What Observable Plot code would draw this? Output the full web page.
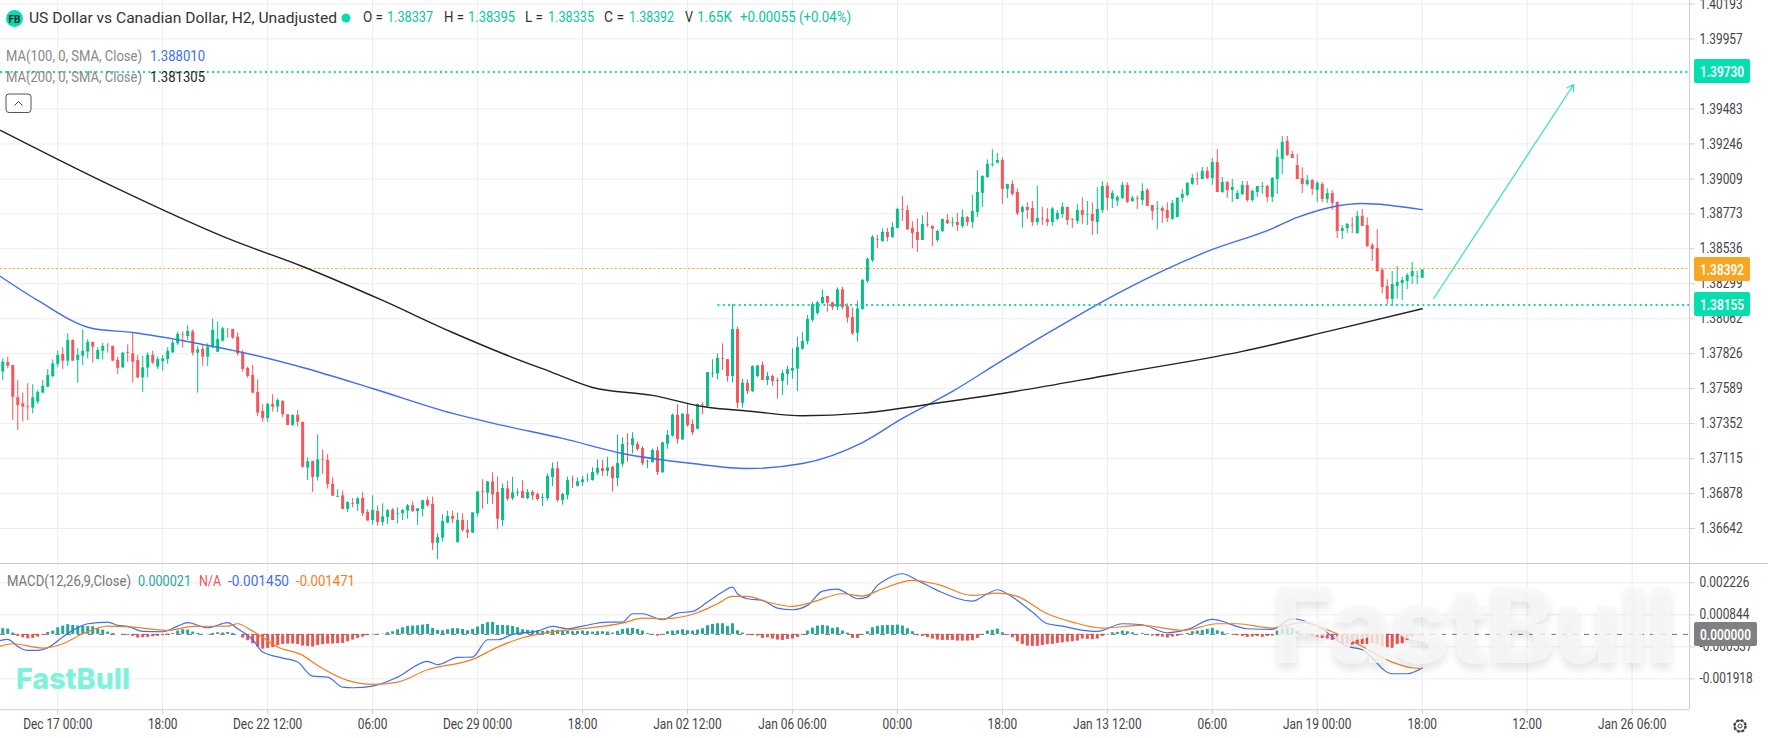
<!DOCTYPE html>
<html><head><meta charset="utf-8">
<script src="https://cdn.jsdelivr.net/npm/d3@7"></script>
<script src="https://cdn.jsdelivr.net/npm/@observablehq/plot@0.6"></script>
<style>
html,body{margin:0;padding:0;background:#fff;width:1768px;height:738px;overflow:hidden}
#wrap{position:relative;width:1768px;height:738px;font-family:Roboto,sans-serif;font-size:14.5px;color:#333}
#wrap svg{display:block}
.t{position:absolute;white-space:nowrap;line-height:20px;transform-origin:left center}
#sep{position:absolute;left:0;top:563px;width:1768px;height:1px;background:#ccc}
#wm{position:absolute;left:1272px;top:565px;font-family:Inter,sans-serif;font-weight:800;font-size:105px;line-height:120px;letter-spacing:-2px;color:rgba(248,248,248,.8);text-shadow:0 6px 9px rgba(0,0,0,.1);white-space:nowrap}
#logo{position:absolute;left:16px;top:661px;font-family:Inter,sans-serif;font-weight:800;font-size:29px;line-height:36px;color:#7ff2dc;transform-origin:left center}
</style></head><body>
<div id="wrap">
<div id="top"></div><div id="bot"></div><div id="sep"></div>
<div id="wm">FastBull</div>
<div id="logo">FastBull</div>
<svg style="position:absolute;left:6px;top:10px" width="17" height="17"><circle cx="8.5" cy="8.5" r="8.5" fill="#05dfb0"/><text x="8.5" y="12.5" text-anchor="middle" font-size="10" font-weight="700" fill="#222" font-family="Roboto,sans-serif">FB</text></svg>
<svg style="position:absolute;left:341px;top:13px" width="10" height="10"><circle cx="5" cy="5" r="4.5" fill="#05dfb0"/></svg>
<svg style="position:absolute;left:5px;top:93px" width="28" height="22"><rect x="1" y="1" width="25" height="18.5" rx="3" fill="#fff" stroke="#555"/><path d="M9.5 12.5l4-4 4 4" fill="none" stroke="#444"/></svg>
<svg style="position:absolute;left:1732px;top:718px" width="16" height="16"><circle cx="8" cy="8" r="5.6" fill="none" stroke="#444" stroke-width="2.4" stroke-dasharray="2.6 1.8"/><circle cx="8" cy="8" r="5.4" fill="none" stroke="#444" stroke-width="1"/><circle cx="8" cy="8" r="2" fill="none" stroke="#444"/></svg>
</div>
<script>
const open=[1.37701,1.37766,1.37746,1.37527,1.37486,1.37466,1.37457,1.37498,1.37559,1.37599,1.37671,1.37753,1.37820,1.37775,1.37915,1.37780,1.37809,1.37836,1.37902,1.37786,1.37841,1.37877,1.37875,1.37780,1.37730,1.37834,1.37825,1.37780,1.37662,1.37728,1.37814,1.37735,1.37773,1.37786,1.37832,1.37893,1.37954,1.37942,1.37974,1.37829,1.37854,1.37802,1.37866,1.37836,1.37911,1.37994,1.37990,1.37938,1.37829,1.37726,1.37678,1.37563,1.37434,1.37387,1.37482,1.37464,1.37502,1.37412,1.37340,1.37407,1.37360,1.37051,1.37096,1.36988,1.37107,1.37103,1.36942,1.36852,1.36863,1.36771,1.36811,1.36805,1.36845,1.36751,1.36696,1.36757,1.36683,1.36717,1.36766,1.36739,1.36742,1.36760,1.36796,1.36757,1.36771,1.36832,1.36805,1.36541,1.36577,1.36678,1.36723,1.36547,1.36696,1.36629,1.36611,1.36742,1.36893,1.36881,1.36958,1.36886,
1.36696,1.36910,1.36845,1.36881,1.36892,1.36845,1.36886,1.36872,1.36847,1.36845,1.36987,1.37046,1.36831,1.36865,1.36969,1.36928,1.36953,1.36969,1.36967,1.37016,1.37048,1.37028,1.37055,1.36980,1.37077,1.37215,1.37204,1.37211,1.37183,1.37089,1.37089,1.37168,1.37019,1.37213,1.37267,1.37409,1.37242,1.37414,1.37346,1.37314,1.37481,1.37468,1.37687,1.37689,1.37793,1.37786,1.37671,1.37989,1.37490,1.37624,1.37569,1.37671,1.37745,1.37644,1.37671,1.37644,1.37639,1.37685,1.37707,1.37721,1.37856,1.37908,1.38052,1.38098,1.38165,1.38213,1.38170,1.38140,1.38258,1.38145,1.38070,1.37964,1.38125,1.38315,1.38455,1.38599,1.38586,1.38646,1.38613,1.38674,1.38802,1.38795,1.38674,1.38646,1.38592,1.38701,1.38687,1.38592,1.38653,1.38728,1.38710,1.38714,1.38687,1.38748,1.38714,1.38782,1.38911,1.39019,1.39102,1.39116,
1.39134,1.38938,1.38972,1.38917,1.38782,1.38816,1.38809,1.38714,1.38741,1.38735,1.38714,1.38735,1.38768,1.38816,1.38735,1.38721,1.38795,1.38764,1.38768,1.38714,1.38795,1.38958,1.38870,1.38859,1.38877,1.38965,1.38856,1.38877,1.38863,1.38931,1.38829,1.38805,1.38809,1.38795,1.38735,1.38748,1.38877,1.38897,1.38972,1.39012,1.39005,1.39060,1.39012,1.39120,1.38917,1.38985,1.38931,1.38870,1.38904,1.38965,1.38863,1.38917,1.38953,1.38958,1.38883,1.39005,1.39141,1.39263,1.39174,1.39100,1.39010,1.38971,1.38998,1.38931,1.38971,1.38870,1.38910,1.38849,1.38653,1.38673,1.38694,1.38640,1.38755,1.38694,1.38558,1.38538,1.38389,1.38281,1.38193,1.38281,1.38301,1.38315,1.38348,1.38344,1.38337];
const close=[1.37768,1.37741,1.37531,1.37475,1.37464,1.37461,1.37527,1.37563,1.37604,1.37678,1.37757,1.37814,1.37775,1.37915,1.37775,1.37814,1.37841,1.37902,1.37870,1.37847,1.37875,1.37875,1.37775,1.37726,1.37829,1.37829,1.37768,1.37662,1.37730,1.37814,1.37762,1.37786,1.37791,1.37841,1.37897,1.37956,1.37951,1.37976,1.37829,1.37852,1.37802,1.37870,1.37983,1.37922,1.37994,1.37992,1.37931,1.37825,1.37719,1.37671,1.37559,1.37423,1.37387,1.37482,1.37464,1.37509,1.37412,1.37340,1.37407,1.37362,1.37058,1.37094,1.36988,1.37107,1.37103,1.36940,1.36861,1.36857,1.36771,1.36818,1.36807,1.36843,1.36742,1.36694,1.36764,1.36683,1.36721,1.36762,1.36696,1.36744,1.36764,1.36796,1.36757,1.36775,1.36830,1.36796,1.36541,1.36581,1.36690,1.36723,1.36705,1.36696,1.36629,1.36611,1.36748,1.36890,1.36888,1.36958,1.36870,1.36705,
1.36913,1.36840,1.36883,1.36886,1.36845,1.36886,1.36863,1.36838,1.36852,1.36994,1.37046,1.36831,1.36872,1.36967,1.36965,1.36958,1.36971,1.36971,1.37021,1.37048,1.37028,1.37053,1.36980,1.37082,1.37211,1.37211,1.37249,1.37177,1.37080,1.37093,1.37170,1.37021,1.37222,1.37272,1.37409,1.37244,1.37416,1.37339,1.37290,1.37481,1.37477,1.37698,1.37691,1.37793,1.37788,1.37671,1.37989,1.37490,1.37626,1.37569,1.37739,1.37743,1.37644,1.37671,1.37637,1.37639,1.37691,1.37718,1.37725,1.37867,1.37908,1.38057,1.38158,1.38170,1.38206,1.38168,1.38138,1.38258,1.38138,1.38066,1.37960,1.38129,1.38322,1.38464,1.38613,1.38595,1.38646,1.38613,1.38680,1.38802,1.38798,1.38665,1.38640,1.38592,1.38701,1.38696,1.38669,1.38653,1.38735,1.38705,1.38714,1.38694,1.38748,1.38714,1.38789,1.38917,1.39026,1.39107,1.39107,1.39134,
1.38938,1.38972,1.38904,1.38773,1.38816,1.38795,1.38714,1.38741,1.38737,1.38714,1.38805,1.38775,1.38816,1.38728,1.38730,1.38795,1.38762,1.38768,1.38721,1.38802,1.38958,1.38877,1.38911,1.38883,1.38965,1.38850,1.38877,1.38872,1.38924,1.38823,1.38789,1.38809,1.38789,1.38741,1.38843,1.38879,1.38904,1.38978,1.39012,1.39008,1.39060,1.39012,1.39120,1.38917,1.38985,1.38931,1.38951,1.38911,1.38965,1.38863,1.38924,1.38958,1.38958,1.38883,1.39012,1.39154,1.39256,1.39168,1.39147,1.39005,1.38971,1.38998,1.38938,1.38978,1.38870,1.38910,1.38843,1.38653,1.38673,1.38701,1.38689,1.38755,1.38687,1.38552,1.38531,1.38382,1.38274,1.38193,1.38294,1.38308,1.38321,1.38355,1.38382,1.38348,1.38392];
const high=[1.37791,1.37802,1.37746,1.37644,1.37559,1.37622,1.37615,1.37577,1.37644,1.37717,1.37784,1.37843,1.37866,1.37960,1.37920,1.37859,1.37987,1.37920,1.37904,1.37866,1.37897,1.37893,1.37877,1.37802,1.37836,1.37886,1.37967,1.37814,1.37807,1.37832,1.37843,1.37802,1.37814,1.37866,1.37920,1.37972,1.37972,1.38014,1.37987,1.37875,1.37886,1.37893,1.38060,1.38039,1.38005,1.37994,1.37990,1.37967,1.37847,1.37735,1.37746,1.37649,1.37480,1.37491,1.37547,1.37520,1.37509,1.37412,1.37412,1.37441,1.37362,1.37121,1.37098,1.37276,1.37175,1.37143,1.36985,1.36904,1.36895,1.36823,1.36845,1.36850,1.36884,1.36769,1.36863,1.36793,1.36809,1.36771,1.36778,1.36782,1.36769,1.36805,1.36823,1.36778,1.36832,1.36854,1.36854,1.36606,1.36735,1.36760,1.36760,1.36746,1.36742,1.36696,1.36748,1.36890,1.36972,1.36961,1.37019,1.36990,
1.36944,1.36960,1.36989,1.36910,1.36965,1.36906,1.36899,1.36883,1.36877,1.37012,1.37086,1.37091,1.36881,1.36989,1.36996,1.36985,1.36996,1.37012,1.37053,1.37107,1.37102,1.37125,1.37064,1.37276,1.37256,1.37283,1.37290,1.37229,1.37197,1.37102,1.37181,1.37192,1.37226,1.37305,1.37418,1.37479,1.37418,1.37490,1.37378,1.37486,1.37493,1.37698,1.37784,1.37824,1.37892,1.37786,1.38158,1.38005,1.37653,1.37648,1.37743,1.37745,1.37770,1.37700,1.37682,1.37662,1.37712,1.37741,1.37858,1.37937,1.37971,1.38084,1.38174,1.38181,1.38258,1.38215,1.38174,1.38271,1.38276,1.38163,1.38136,1.38181,1.38328,1.38473,1.38626,1.38626,1.38671,1.38674,1.38712,1.38811,1.38890,1.38829,1.38719,1.38739,1.38759,1.38782,1.38694,1.38662,1.38735,1.38766,1.38746,1.38775,1.38800,1.38755,1.38897,1.39064,1.39030,1.39138,1.39206,1.39181,
1.39152,1.38972,1.38996,1.38942,1.38825,1.38847,1.38856,1.38958,1.38816,1.38807,1.38816,1.38795,1.38847,1.38816,1.38739,1.38834,1.38881,1.38856,1.38847,1.38949,1.38992,1.38983,1.38929,1.38897,1.38987,1.38983,1.38893,1.38893,1.38976,1.38944,1.38829,1.38856,1.38823,1.38847,1.38863,1.38879,1.38938,1.38987,1.39039,1.39051,1.39087,1.39087,1.39148,1.39208,1.39019,1.38992,1.39005,1.38931,1.38992,1.38992,1.38935,1.38958,1.38985,1.38965,1.39019,1.39208,1.39296,1.39296,1.39195,1.39174,1.39084,1.39032,1.39003,1.38992,1.38985,1.38942,1.38931,1.38854,1.38694,1.38707,1.38746,1.38789,1.38802,1.38746,1.38572,1.38667,1.38403,1.38326,1.38382,1.38416,1.38342,1.38369,1.38443,1.38382,1.38395];
const low=[1.37644,1.37723,1.37373,1.37306,1.37362,1.37373,1.37419,1.37482,1.37554,1.37595,1.37662,1.37730,1.37719,1.37741,1.37773,1.37626,1.37746,1.37791,1.37762,1.37784,1.37784,1.37829,1.37773,1.37685,1.37723,1.37768,1.37626,1.37656,1.37565,1.37662,1.37753,1.37719,1.37708,1.37753,1.37825,1.37881,1.37863,1.37915,1.37809,1.37559,1.37741,1.37739,1.37859,1.37832,1.37904,1.37931,1.37922,1.37809,1.37701,1.37660,1.37554,1.37401,1.37362,1.37360,1.37430,1.37428,1.37392,1.37340,1.37333,1.37328,1.37049,1.36967,1.36886,1.36963,1.37008,1.36909,1.36861,1.36852,1.36771,1.36751,1.36782,1.36757,1.36723,1.36690,1.36663,1.36658,1.36656,1.36669,1.36696,1.36674,1.36696,1.36705,1.36751,1.36663,1.36719,1.36787,1.36493,1.36430,1.36550,1.36674,1.36674,1.36543,1.36617,1.36574,1.36608,1.36719,1.36773,1.36805,1.36805,1.36635,
1.36655,1.36827,1.36831,1.36858,1.36845,1.36836,1.36831,1.36827,1.36791,1.36827,1.36926,1.36820,1.36800,1.36836,1.36913,1.36922,1.36928,1.36956,1.36962,1.37001,1.36996,1.36994,1.36888,1.36926,1.37057,1.37091,1.37147,1.37165,1.37066,1.37048,1.37084,1.37001,1.37016,1.37179,1.37260,1.37213,1.37238,1.37328,1.37272,1.37312,1.37414,1.37464,1.37662,1.37648,1.37712,1.37633,1.37626,1.37452,1.37457,1.37549,1.37563,1.37662,1.37644,1.37610,1.37606,1.37518,1.37542,1.37610,1.37651,1.37569,1.37849,1.37885,1.38039,1.38086,1.38158,1.38107,1.38118,1.38118,1.38122,1.38032,1.37949,1.37903,1.38121,1.38301,1.38443,1.38536,1.38579,1.38583,1.38606,1.38671,1.38721,1.38660,1.38536,1.38511,1.38592,1.38680,1.38552,1.38579,1.38646,1.38701,1.38680,1.38653,1.38674,1.38687,1.38674,1.38748,1.38816,1.39012,1.39089,1.39111,
1.38836,1.38877,1.38893,1.38762,1.38676,1.38735,1.38687,1.38694,1.38694,1.38687,1.38687,1.38728,1.38741,1.38694,1.38674,1.38701,1.38703,1.38694,1.38626,1.38633,1.38775,1.38795,1.38809,1.38823,1.38870,1.38843,1.38850,1.38802,1.38829,1.38823,1.38728,1.38667,1.38707,1.38714,1.38728,1.38748,1.38850,1.38890,1.38965,1.38965,1.39003,1.39005,1.38965,1.38917,1.38911,1.38877,1.38850,1.38870,1.38897,1.38850,1.38849,1.38883,1.38904,1.38849,1.38849,1.38904,1.39039,1.39161,1.39147,1.39005,1.38910,1.38958,1.38897,1.38849,1.38849,1.38843,1.38795,1.38606,1.38599,1.38640,1.38640,1.38633,1.38687,1.38545,1.38450,1.38376,1.38231,1.38159,1.38145,1.38197,1.38186,1.38260,1.38294,1.38294,1.38335];

const ma100Bar=[-0.45,7,18,26,40,48,60,74,90,100,112,124,138,149,160,172,180,190,200,210,223,241,254,259,272,284];
const ma100=[1.38348,1.38186,1.37996,1.37969,1.37888,1.37834,1.37732,1.37590,1.37421,1.37340,1.37252,1.37150,1.37082,1.37048,1.37082,1.37224,1.37387,1.37570,1.37780,1.37983,1.38233,1.38518,1.38673,1.38748,1.38843,1.38801];
const ma200Bar=[-0.45,22,45,60,76,90,100,110,118,130,140,150,160,172,185,200,222,248,266,284];
const ma200=[1.39337,1.38958,1.38606,1.38416,1.38186,1.37969,1.37827,1.37698,1.37597,1.37543,1.37468,1.37434,1.37405,1.37423,1.37482,1.37556,1.37685,1.37841,1.37983,1.38130];

const hist=[0.000245,0.000230,0.000058,-0.000086,-0.000144,-0.000187,-0.000173,-0.000115,-0.000043,0.000086,0.000144,0.000288,0.000360,0.000417,0.000388,0.000360,0.000345,0.000331,0.000331,0.000245,0.000187,0.000101,0.000043,0,-0.000014,-0.000043,-0.000086,-0.000158,-0.000144,-0.000129,-0.000101,-0.000086,-0.000058,0.000014,0.000043,0.000144,0.000201,0.000187,0.000101,0.000043,0,-0.000014,0.000043,0.000072,0.000058,0.000086,0.000043,0,-0.000158,-0.000273,-0.000403,-0.000547,-0.000633,-0.000604,-0.000575,-0.000489,-0.000432,-0.000417,-0.000417,-0.000432,-0.000504,-0.000518,-0.000547,-0.000475,-0.000446,-0.000417,-0.000417,-0.000403,-0.000388,-0.000317,-0.000245,-0.000173,-0.000115,-0.000058,-0.000014,-0.000014,0.000014,0.000072,0.000115,0.000201,0.000288,0.000345,0.000360,0.000374,0.000403,0.000432,0.000259,0.000173,0.000158,0.000201,0.000245,0.000245,0.000216,0.000158,0.000216,0.000317,0.000432,0.000504,0.000518,0.000388,
0.000388,0.000374,0.000345,0.000288,0.000201,0.000173,0.000158,0.000158,0.000129,0.000144,0.000187,0.000173,0.000144,0.000129,0.000115,0.000129,0.000144,0.000115,0.000101,0.000115,0.000115,0.000101,0.000058,0.000129,0.000216,0.000245,0.000259,0.000216,0.000144,0.000043,-0.000029,-0.000072,0,0.000115,0.000144,0.000158,0.000201,0.000158,0.000144,0.000187,0.000245,0.000374,0.000432,0.000460,0.000460,0.000345,0.000460,0.000158,0.000058,-0.000043,-0.000058,-0.000072,-0.000173,-0.000144,-0.000201,-0.000245,-0.000259,-0.000216,-0.000201,-0.000129,-0.000043,0.000144,0.000273,0.000360,0.000388,0.000360,0.000259,0.000288,0.000144,0.000058,-0.000173,-0.000173,-0.000029,0.000115,0.000288,0.000345,0.000374,0.000388,0.000388,0.000403,0.000360,0.000245,0.000115,-0.000058,-0.000086,-0.000144,-0.000201,-0.000245,-0.000259,-0.000259,-0.000259,-0.000288,-0.000288,-0.000288,-0.000273,-0.000173,-0.000029,0.000144,0.000173,0.000230,
0.000072,-0.000043,-0.000144,-0.000317,-0.000432,-0.000504,-0.000518,-0.000518,-0.000475,-0.000432,-0.000432,-0.000388,-0.000360,-0.000331,-0.000317,-0.000288,-0.000201,-0.000216,-0.000230,-0.000201,-0.000086,-0.000029,0.000072,0.000086,0.000144,0.000115,0.000072,-0.000014,0.000043,-0.000029,-0.000072,-0.000101,-0.000115,-0.000158,-0.000115,-0.000086,-0.000029,0.000043,0.000115,0.000144,0.000173,0.000216,0.000259,0.000158,0.000101,0.000029,-0.000014,-0.000058,-0.000086,-0.000129,-0.000115,-0.000086,-0.000129,-0.000086,-0.000072,0.000144,0.000230,0.000273,0.000245,0.000115,0,-0.000043,-0.000072,-0.000115,-0.000173,-0.000201,-0.000259,-0.000317,-0.000432,-0.000432,-0.000460,-0.000432,-0.000432,-0.000432,-0.000403,-0.000432,-0.000547,-0.000575,-0.000604,-0.000432,-0.000403,-0.000259,-0.000115,-0.000029,0.000021];

const macdBar=[-0.45,1,3,5,7,9,12,14,17,21,23,25,28,32,35,37,41,45,47,50,52,56,59,62,65,68,70,74,79,85,87,91,94,97,99,102,107,110,113,116,121,124,126,128,132,135,138,141,144,146,147,149,152,155,158,161,164,167,169,171,173,175,177,180,183,187,194,197,199,202,206,209,212,215,219,224,228,233,237,242,249,254,258,263,269,272,278,281,284];
const macd=[-0.000259,-0.000216,-0.000518,-0.000691,-0.000691,-0.000575,-0.000115,0.000173,0.000460,0.000532,0.000388,0.000345,0.000129,0.000115,0.000360,0.000504,0.000288,0.000504,0.000245,-0.000230,-0.000763,-0.001021,-0.001194,-0.001798,-0.001842,-0.002273,-0.002302,-0.002230,-0.001842,-0.001165,-0.001309,-0.000993,-0.000978,-0.000230,-0.000230,0,0.000144,0.000345,0.000245,0.000360,0.000532,0.000532,0.000892,0.000892,0.000633,0.000921,0.000993,0.001396,0.001827,0.002043,0.001755,0.001539,0.001467,0.001137,0.001065,0.001252,0.001870,0.001957,0.001755,0.001539,0.001611,0.002115,0.002403,0.002618,0.002331,0.001899,0.001439,0.001755,0.001928,0.001611,0.000964,0.000460,0.000360,0.000216,0.000129,0.000460,0.000417,0.000072,0.000216,0.000647,0.000245,0.000216,0.000676,0.000360,-0.000518,-0.000662,-0.001698,-0.001698,-0.001450];
const signalBar=[-0.45,2,8,12,16,21,26,33,38,45,47,50,55,60,63,69,74,79,85,94,99,104,111,117,124,128,132,139,143,146,149,153,158,162,168,172,176,182,187,194,199,203,209,214,220,228,236,243,247,254,260,265,271,278,282,284];
const signal=[-0.000504,-0.000403,-0.000590,-0.000403,0.000029,0.000360,0.000317,0.000173,0.000345,0.000360,0.000460,0.000144,-0.000547,-0.000906,-0.001338,-0.001985,-0.002158,-0.002057,-0.001525,-0.001079,-0.000547,-0.000144,0.000144,0.000273,0.000489,0.000705,0.000676,0.000935,0.001324,0.001640,0.001640,0.001396,0.001209,0.001396,0.001755,0.001654,0.001971,0.002331,0.002158,0.001683,0.001784,0.001640,0.000892,0.000532,0.000273,0.000388,0.000173,0.000460,0.000460,0.000273,0.000504,0.000201,-0.000403,-0.001194,-0.001439,-0.001471];

const priceTicks=[1.40193,1.39957,1.39483,1.39246,1.39009,1.38773,1.38536,1.38299,1.38062,1.37826,1.37589,1.37352,1.37115,1.36878,1.36642];
const macdTicks=[0.002226,0.000844,-0.000537,-0.001918];
const timeBars=[11,32,53,74,95,116,137,158,179,200,221,242,263,284,305,326];
const timeLabels=["Dec 17 00:00","18:00","Dec 22 12:00","06:00","Dec 29 00:00","18:00","Jan 02 12:00","Jan 06 06:00","00:00","18:00","Jan 13 12:00","06:00","Jan 19 00:00","18:00","12:00","Jan 26 06:00"];
const targetHigh=1.39730, lastPrice=1.38392, targetLow=1.38155;
const arrowFrom={bar:286.3,price:1.38199}, arrowTo={bar:314.3,price:1.39648};
const supportStartBar=143.1;

const headerTexts=[
 ["US Dollar vs Canadian Dollar, H2, Unadjusted",29,8,308,"#333",15.5],
 ["O =",363,8,20,"#333"],["1.38337",387,8,46,"#05c79a"],
 ["H =",444,8,20,"#333"],["1.38395",468,8,47,"#05c79a"],
 ["L =",525,8,18,"#333"],["1.38335",548,8,46,"#05c79a"],
 ["C =",604,8,20,"#333"],["1.38392",629,8,45,"#05c79a"],
 ["V",685,8,8,"#333"],["1.65K",697,8,35,"#05c79a"],
 ["+0.00055 (+0.04%)",740,8,111,"#05c79a"],
 ["MA(100, 0, SMA, Close)",6,47,136,"#888"],["1.388010",150,47,55,"#3d6ff0"],
 ["MA(200, 0, SMA, Close)",6,68,136,"#888"],["1.381305",150,68,55,"#222"],
 ["MACD(12,26,9,Close)",7,572,124,"#777"],["0.000021",138,572,53,"#26a69a"],
 ["N/A",199,572,22,"#ef5350"],["-0.001450",228,572,61,"#3d6ff0"],["-0.001471",296,572,59,"#f57c1f"]
];

const FONT='Roboto,sans-serif';
const GREEN="#05c187",RED="#f8545a",TEAL="#05dfb0",ORANGE="#f5a623",GRID="#ececec",AXIS="#cfcfcf";
const xDomain=[-0.452,337.48];
const candles=close.map((c,i)=>({i,o:open[i],h:high[i],l:low[i],c,col:c>=open[i]?GREEN:RED}));
const bars=hist.map((v,i)=>({i,v,col:v>=0?"#26a69a":"#ef5350"}));
const tag=(levels,w,digits,cols,snap)=>(index,{y},values,dims)=>{
  const g=d3.create("svg:g");
  levels.forEach((v,i)=>{
    const cy=snap(y(v));
    g.append("rect").attr("x",dims.width-74).attr("y",cy-12).attr("width",w).attr("height",24).attr("rx",2).attr("fill",cols[i]);
    g.append("text").attr("x",dims.width-74+w/2).attr("y",cy+5.5).attr("text-anchor","middle").attr("fill","#fff").attr("font-size",14.5).attr("font-weight",600).attr("font-family",FONT).text(v.toFixed(digits));
  });
  return g.node();
};
const main=Plot.plot({
  width:1768,height:563,marginLeft:0,marginRight:79,marginTop:0,marginBottom:0,
  style:{fontFamily:FONT,background:"transparent",overflow:"visible"},
  color:{type:"identity"},
  x:{domain:xDomain,axis:null},
  y:{domain:[1.36405,1.40217],axis:null},
  marks:[
    Plot.ruleY(priceTicks,{stroke:GRID}),
    Plot.ruleX(timeBars,{stroke:GRID}),
    Plot.ruleX([xDomain[1]],{stroke:AXIS}),
    Plot.axisY(priceTicks,{anchor:"right",tickSize:5,tickPadding:5,stroke:AXIS,fill:"#444",fontSize:14.5,tickFormat:d=>d.toFixed(5),label:null}),
    Plot.ruleY([lastPrice],{stroke:ORANGE,strokeWidth:1,strokeDasharray:"2,2.3",x1:xDomain[0],x2:xDomain[1],dy:-1.5}),
    Plot.ruleX(candles,{x:"i",y1:"l",y2:"h",stroke:"col",strokeWidth:1}),
    Plot.ruleX(candles,{x:"i",y1:"o",y2:"c",stroke:"col",strokeWidth:3}),
    Plot.line(ma100.map((v,i)=>({b:ma100Bar[i],v})),{x:"b",y:"v",stroke:"#3d6ff0",strokeWidth:1.4,curve:"monotone-x"}),
    Plot.line(ma200.map((v,i)=>({b:ma200Bar[i],v})),{x:"b",y:"v",stroke:"#222",strokeWidth:1.4,curve:"monotone-x"}),
    Plot.ruleY([targetHigh],{stroke:TEAL,strokeWidth:2,strokeDasharray:"2,3.3",x1:xDomain[0],x2:xDomain[1],dy:-0.4}),
    Plot.ruleY([targetLow],{stroke:TEAL,strokeWidth:2,strokeDasharray:"2,3.3",x1:supportStartBar,x2:xDomain[1]}),
    Plot.arrow([0],{x1:()=>arrowFrom.bar,y1:()=>arrowFrom.price,x2:()=>arrowTo.bar,y2:()=>arrowTo.price,bend:false,stroke:"#2fe3bb",strokeWidth:1.2,headLength:9}),
    tag([targetHigh,lastPrice,targetLow],56,5,[TEAL,ORANGE,TEAL],Math.floor)
  ]
});
const sub=Plot.plot({
  width:1768,height:175,marginLeft:0,marginRight:79,marginTop:0,marginBottom:28.7,
  style:{fontFamily:FONT,background:"transparent",overflow:"visible"},
  color:{type:"identity"},
  x:{domain:xDomain,axis:null},
  y:{domain:[-0.003254,0.00306],axis:null},
  marks:[
    Plot.ruleY(macdTicks,{stroke:GRID}),
    Plot.ruleX(timeBars,{stroke:GRID}),
    Plot.ruleX([xDomain[1]],{stroke:AXIS}),
    Plot.ruleY([-0.003254],{stroke:AXIS,strokeWidth:1}),
    Plot.axisY(macdTicks,{anchor:"right",tickSize:5,tickPadding:5,stroke:AXIS,fill:"#444",fontSize:14.5,tickFormat:d=>d.toFixed(6),label:null}),
    Plot.axisX(timeBars,{anchor:"bottom",tickSize:5,tickPadding:4,stroke:AXIS,fill:"#444",fontSize:14.5,tickFormat:d=>timeLabels[timeBars.indexOf(d)],label:null}),
    Plot.ruleX(bars,{x:"i",y1:()=>0,y2:"v",stroke:"col",strokeWidth:3}),
    Plot.ruleY([0],{stroke:"#777",strokeWidth:1,strokeDasharray:"5,6",x1:xDomain[0],x2:xDomain[1]}),
    Plot.line(macd.map((v,i)=>({b:macdBar[i],v})),{x:"b",y:"v",stroke:"#3d6ff0",strokeWidth:1.2,curve:"monotone-x"}),
    Plot.line(signal.map((v,i)=>({b:signalBar[i],v})),{x:"b",y:"v",stroke:"#f57c1f",strokeWidth:1.2,curve:"monotone-x"}),
    tag([0],63,6,["#808080"],Math.ceil)
  ]
});
document.getElementById("top").appendChild(main);
document.getElementById("bot").appendChild(sub);
document.querySelectorAll("#top svg text,#bot svg text").forEach(t=>{
  t.setAttribute("font-family",FONT);
  const len=t.getComputedTextLength();
  t.setAttribute("textLength",len*0.82);
  t.setAttribute("lengthAdjust","spacingAndGlyphs");
});
const wrap=document.getElementById("wrap");
for(const [text,left,top,w,col,size] of headerTexts){
  const d=document.createElement("div");
  d.className="t";d.textContent=text;
  d.style.cssText=`left:${left}px;top:${top}px;color:${col};${size?`font-size:${size}px;`:""}`;
  wrap.appendChild(d);
  d.style.transform=`scaleX(${w/d.getBoundingClientRect().width})`;
}
const lg=document.getElementById("logo");
lg.style.transform=`scaleX(${114/lg.getBoundingClientRect().width})`;
</script>
</body></html>
